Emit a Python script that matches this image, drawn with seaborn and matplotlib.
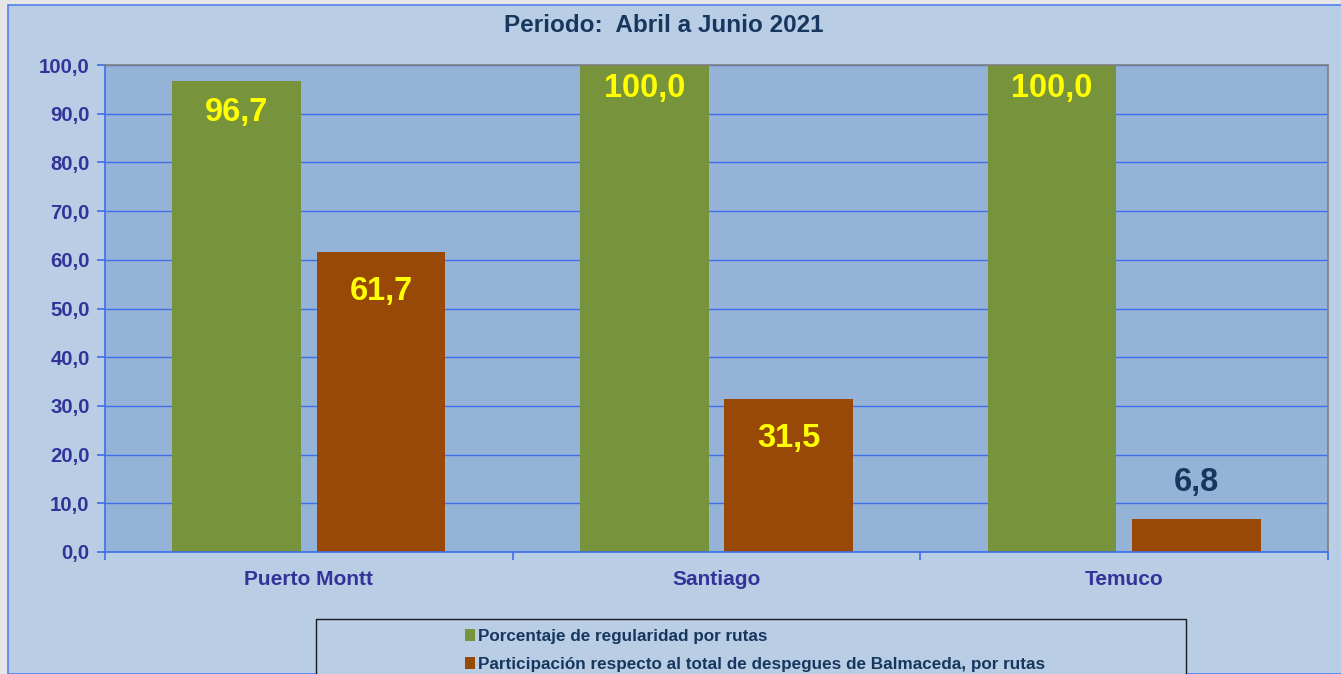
import matplotlib
matplotlib.use("Agg")
import matplotlib.pyplot as plt
import seaborn as sns
import pandas as pd
from matplotlib.patches import Rectangle
from matplotlib.ticker import FuncFormatter, FixedLocator

categories = ["Puerto Montt", "Santiago", "Temuco"]
series_names = ["Porcentaje de regularidad por rutas",
                "Participación respecto al total de despegues de Balmaceda, por rutas"]
regularidad = [96.7, 100.0, 100.0]
participacion = [61.7, 31.5, 6.8]
title = "Periodo:  Abril a Junio 2021"

df = pd.DataFrame({
    "ruta": categories * 2,
    "serie": [series_names[0]] * 3 + [series_names[1]] * 3,
    "valor": regularidad + participacion,
})

sns.set_theme(style="white")
plt.rcParams["font.family"] = ["Liberation Sans", "DejaVu Sans"]
plt.rcParams["font.weight"] = "bold"

W, H = 1341, 674
fig = plt.figure(figsize=(W / 100, H / 100), dpi=100)
fig.patch.set_facecolor("#E6E6E6")
# chart area
fig.patches.append(Rectangle((8 / W, 0), 1.0, 1 - 5 / H, transform=fig.transFigure,
                             facecolor="#B9CDE5", edgecolor="#4F7FEF", linewidth=1.2, zorder=0))

ax = fig.add_axes([105 / W, (H - 552) / H, 1223 / W, 487 / H])
ax.set_zorder(3)
ax.set_facecolor("#95B3D7")

palette = {series_names[0]: "#77933C", series_names[1]: "#984807"}
sns.barplot(data=df, x="ruta", y="valor", hue="serie", palette=palette, order=categories,
            hue_order=series_names, width=0.708, gap=0.107, ax=ax, legend=False,
            saturation=1, edgecolor="none")

ax.set_ylim(0, 100)
ax.set_xlim(-0.5, 2.5)
ax.set_yticks(range(0, 101, 10))
ax.yaxis.set_major_formatter(FuncFormatter(lambda v, p: f"{v:.1f}".replace(".", ",")))
ax.set_axisbelow(True)
ax.yaxis.grid(True, color="#3E6EE8", linewidth=1.0)
ax.xaxis.grid(False)
ax.set_xlabel("")
ax.set_ylabel("")

for side in ["top", "right"]:
    ax.spines[side].set_visible(True)
    ax.spines[side].set_color("#7F7F7F")
    ax.spines[side].set_linewidth(1.2)
for side in ["left", "bottom"]:
    ax.spines[side].set_color("#3E6EE8")
    ax.spines[side].set_linewidth(1.2)

tick_col = "#333399"
ax.tick_params(axis="y", which="major", left=True, length=6, width=1.2, color="#3E6EE8",
               labelsize=14.7, labelcolor=tick_col, pad=5)
ax.tick_params(axis="x", which="major", length=0, labelsize=15, labelcolor=tick_col, pad=13)
ax.xaxis.set_minor_locator(FixedLocator([-0.5, 0.5, 1.5, 2.5]))
ax.tick_params(axis="x", which="minor", bottom=True, length=6, width=1.2, color="#3E6EE8")

# value labels
for container in ax.containers:
    for bar in container:
        v = bar.get_height()
        xc = bar.get_x() + bar.get_width() / 2
        txt = f"{v:.1f}".replace(".", ",")
        if v > 15:
            off = -31 if v < 99 else -23
            if v < 70:
                off = -40
            ax.annotate(txt, (xc, v), xytext=(0, off), textcoords="offset pixels",
                        ha="center", va="center", fontsize=23.5, fontweight="bold", color="#FFFF00")
        else:
            ax.annotate(txt, (xc, v), xytext=(0, 36), textcoords="offset pixels",
                        ha="center", va="center", fontsize=23.5, fontweight="bold", color="#17375E")

fig.text(664 / W, 1 - 25 / H, title, ha="center", va="center", fontsize=17.5,
         fontweight="bold", color="#17375E")

# legend
fig.patches.append(Rectangle((316 / W, -0.05), 870 / W, (H - 619) / H + 0.05,
                             transform=fig.transFigure, facecolor="#B9CDE5",
                             edgecolor="#1A1A1A", linewidth=1.0, zorder=1))
handles = [Rectangle((0, 0), 1, 1, facecolor=palette[s], edgecolor="none") for s in series_names]
leg = fig.legend(handles, series_names, loc="upper left", bbox_to_anchor=(458 / W, 1 - 622 / H),
                 frameon=False, fontsize=12.3, handlelength=0.6, handleheight=0.7,
                 handletextpad=0.2, labelspacing=0.75, borderaxespad=0)
for t in leg.get_texts():
    t.set_fontweight("bold")
    t.set_color("#17375E")
leg.set_zorder(2)

fig.savefig("out.png", dpi=100, facecolor=fig.get_facecolor())
